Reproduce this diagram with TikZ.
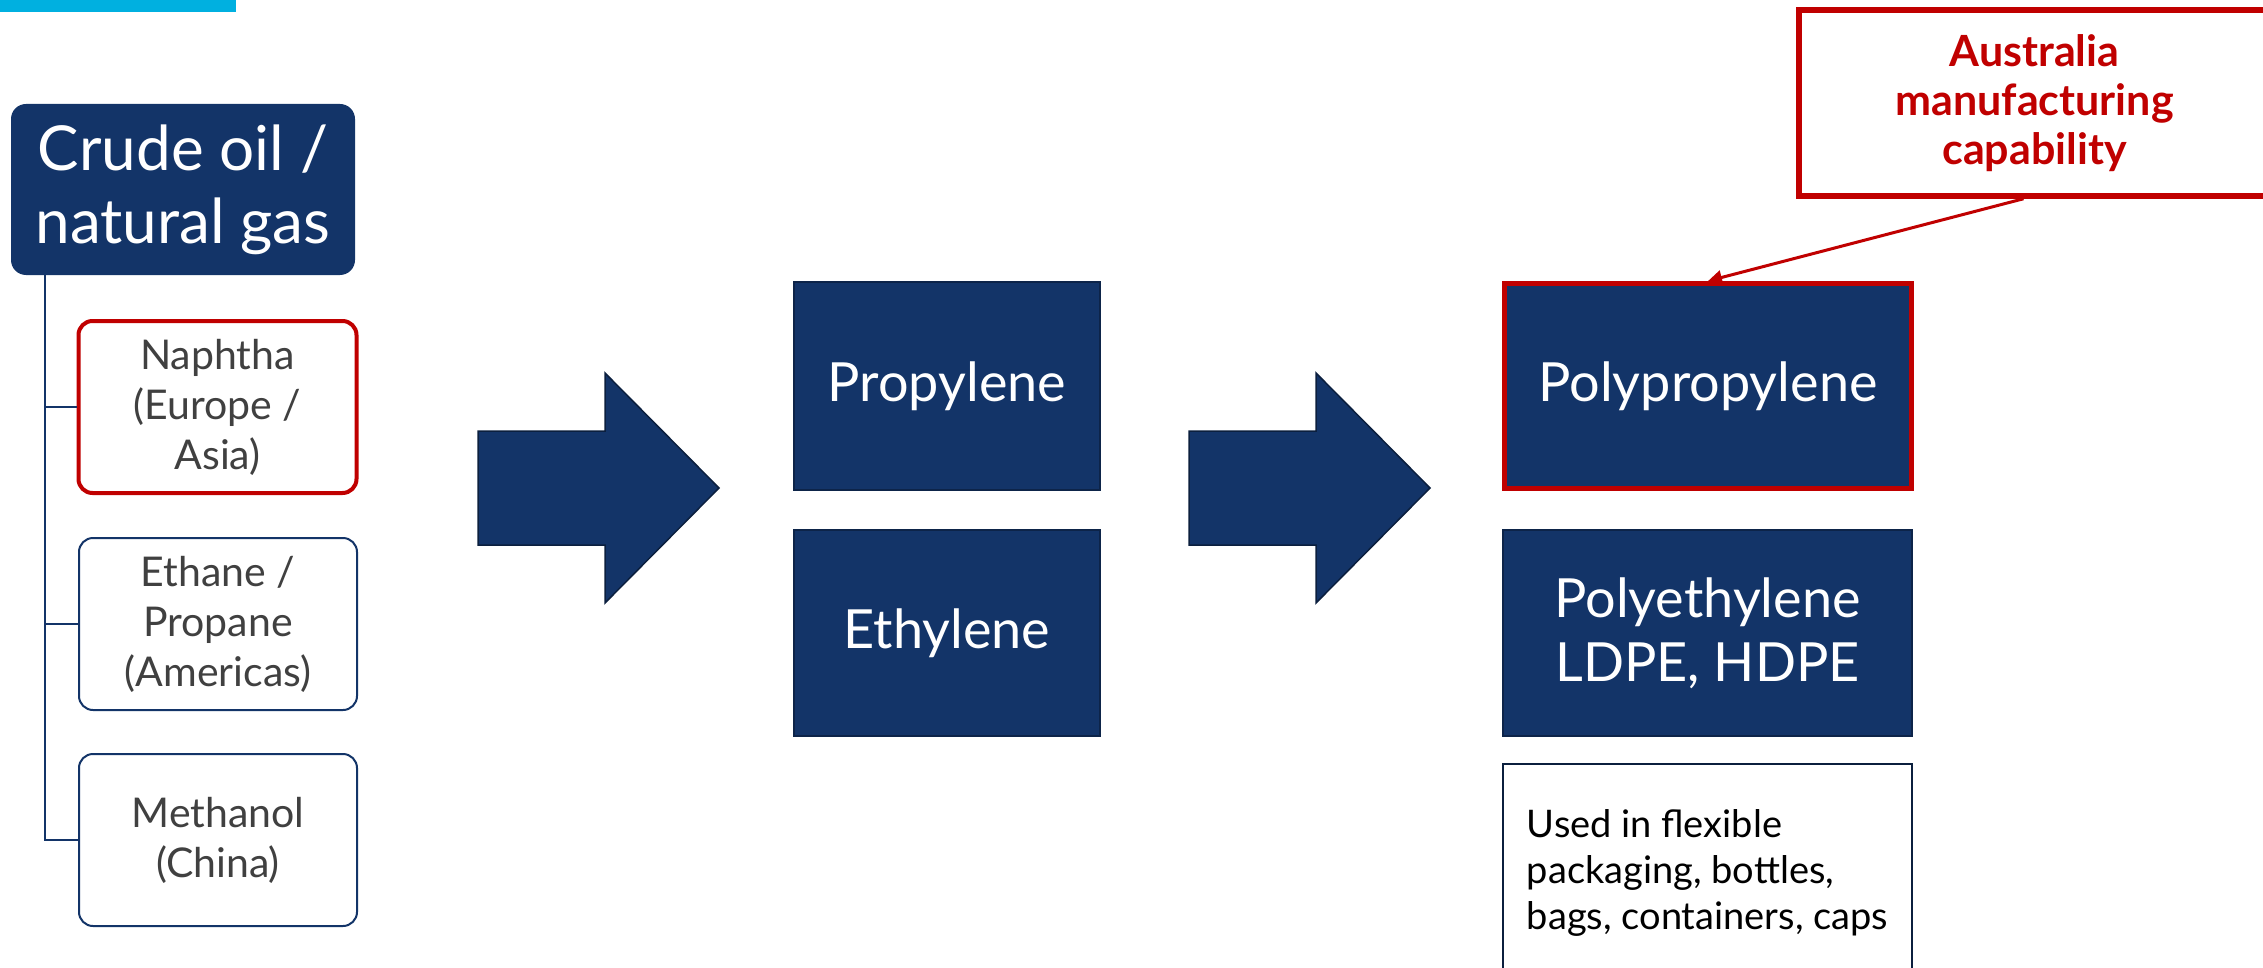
\documentclass[tikz,border=0pt]{standalone}
\usepackage{fontspec}
\setmainfont{Lato}
\usetikzlibrary{arrows.meta}
\definecolor{navy}{RGB}{19,52,104}
\definecolor{capred}{RGB}{192,0,0}
\definecolor{barblue}{RGB}{0,176,224}
\definecolor{greytext}{RGB}{64,64,64}
\tikzset{
    darkbox/.style={draw=navy!70!black, line width=0.75pt, fill=navy, text=white, align=center, font=\fontsize{27}{32}\selectfont},
    feedbox/.style={draw=navy, line width=1pt, rounded corners=7pt, fill=white, text=greytext, align=center, minimum width=139pt, minimum height=86pt, font=\fontsize{20.5}{25}\selectfont},
    fatarrow/.style={fill=navy, draw=navy!60!black, line width=0.75pt},
    trunkline/.style={draw=navy, line width=1pt},
}
\begin{document}
\begin{tikzpicture}[x=0.5pt, y=-0.5pt]
    \useasboundingbox (0,0) rectangle (2263,968);
    \clip (0,0) rectangle (2263,968);
    \fill[barblue] (0,0) rectangle (236,12);
    \node[fill=navy, text=white, rounded corners=7.5pt, align=center, minimum width=172pt, minimum height=85.5pt, font=\fontsize{31}{36.5}\selectfont] (crude) at (183,189.5) {Crude oil /\\natural gas};
    \node[feedbox, draw=capred, line width=2pt] (naphtha) at (217.5,407) {Naphtha\\(Europe /\\Asia)};
    \node[feedbox] (ethane) at (218,624) {Ethane /\\Propane\\(Americas)};
    \node[feedbox] (methanol) at (218,840) {Methanol\\(China)};
    \draw[trunkline] ([xshift=17pt]crude.south west) coordinate (trunk) |- (methanol.west);
    \draw[trunkline] (trunk |- naphtha.west) -- (naphtha.west);
    \draw[trunkline] (trunk |- ethane.west) -- (ethane.west);
    \foreach \x in {478,1189}
        \draw[fatarrow] (\x,431) -- ++(127,0) -- ++(0,-58) -- ++(114,115) -- ++(-114,115) -- ++(0,-58) -- ++(-127,0) -- cycle;
    \node[darkbox, minimum width=153pt, minimum height=104pt] (propylene) at (947,386) {Propylene};
    \node[darkbox, minimum width=153pt, minimum height=103pt] (ethylene) at (947,633) {Ethylene};
    \node[darkbox, draw=capred, line width=2.5pt, minimum width=203.5pt, minimum height=102.5pt] (pp) at (1708,386) {Polypropylene};
    \node[darkbox, minimum width=204.5pt, minimum height=103pt] (pe) at (1707.5,633) {Polyethylene\\LDPE, HDPE};
    \node[draw=navy!60!black, line width=1pt, minimum width=204.5pt, minimum height=109pt, align=left, font=\fontsize{19}{23}\selectfont] (uses) at (1707.5,873) {Used in flexible\\packaging, bottles,\\bags, containers, caps};
    \node[draw=capred, line width=2.75pt, text=capred, minimum width=235.5pt, minimum height=93pt, align=center, font=\bfseries\fontsize{21.5}{24.5}\selectfont] (aus) at (2034.5,103) {Australia\\manufacturing\\capability};
    \draw[capred, line width=1.5pt, -{Triangle[length=7pt,width=7pt]}] ([xshift=-5.5pt]aus.south) -- (pp.north);
\end{tikzpicture}
\end{document}
